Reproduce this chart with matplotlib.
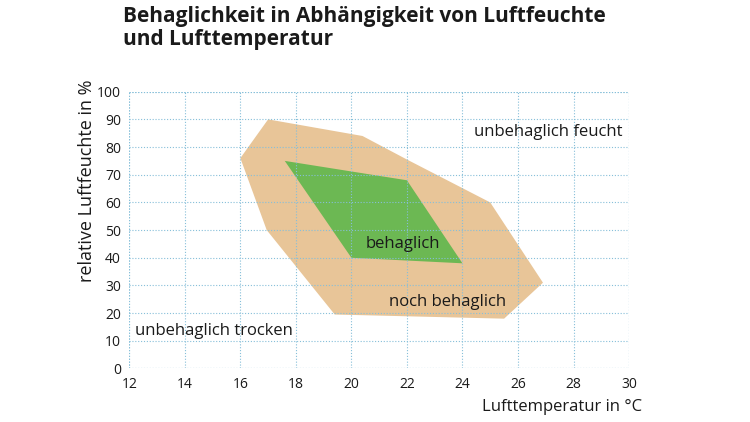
import matplotlib
matplotlib.use("Agg")
import matplotlib.pyplot as plt

plt.rcParams['font.family'] = ['Open Sans', 'DejaVu Sans']

# Lufttemperatur (°C) / relative Luftfeuchte (%) der Zonen
noch_t = [17.0, 20.4, 22.0, 25.0, 26.9, 25.5, 19.4, 16.95, 16.0]
noch_rf = [90, 84, 75.5, 60, 31, 18, 19.5, 50, 76]
beh_t = [17.6, 22.0, 24.0, 20.0]
beh_rf = [75, 68, 38, 40]

x_ticks = list(range(12, 31, 2))
y_ticks = list(range(0, 101, 10))

grid_col = '#86bfd9'
text_col = '#1a1a1a'
dots = (0, (1.0, 1.6))

fig = plt.figure(figsize=(7.5, 4.22), dpi=100)
ax = fig.add_axes([0.1724, 0.1268, 0.6663, 0.6559])

ax.fill(noch_t, noch_rf, color='#e8c598', lw=0, zorder=1)
ax.fill(beh_t, beh_rf, color='#6cb853', lw=0, zorder=2)

ax.set_xlim(12, 30)
ax.set_ylim(0, 100)
ax.set_xticks(x_ticks)
ax.set_yticks(y_ticks)
ax.grid(True, color=grid_col, linestyle=dots, linewidth=0.8, zorder=3)
ax.set_axisbelow(False)
for s in ax.spines.values():
    s.set_visible(False)
# Rahmen als gepunktete Gitterlinien
for v in (12, 30):
    ax.axvline(v, color=grid_col, linestyle=dots, linewidth=0.8, zorder=3)
for v in (0, 100):
    ax.axhline(v, color=grid_col, linestyle=dots, linewidth=0.8, zorder=3)
ax.tick_params(length=0, labelsize=10, colors=text_col, pad=6)

ax.text(24.4, 85.3, 'unbehaglich feucht', fontsize=12, color=text_col, va='center', zorder=4)
ax.text(21.87, 45, 'behaglich', fontsize=12, color=text_col, va='center', ha='center', zorder=4)
ax.text(23.45, 24, 'noch behaglich', fontsize=12, color=text_col, va='center', ha='center', zorder=4)
ax.text(12.2, 13.5, 'unbehaglich trocken', fontsize=12, color=text_col, va='center', zorder=4)

ax.set_ylabel('relative Luftfeuchte in %', fontsize=13, color=text_col, labelpad=3)
ax.yaxis.set_label_coords(-0.066, 0.68)
fig.text(642 / 750, 1 - 407 / 422, 'Lufttemperatur in °C', fontsize=12, color=text_col,
         ha='right', va='center')

fig.text(123 / 750, 1 - 6 / 422, 'Behaglichkeit in Abhängigkeit von Luftfeuchte\nund Lufttemperatur',
         fontsize=15, fontweight='bold', color=text_col, ha='left', va='top', linespacing=1.15)

fig.savefig('out.png', dpi=100)
